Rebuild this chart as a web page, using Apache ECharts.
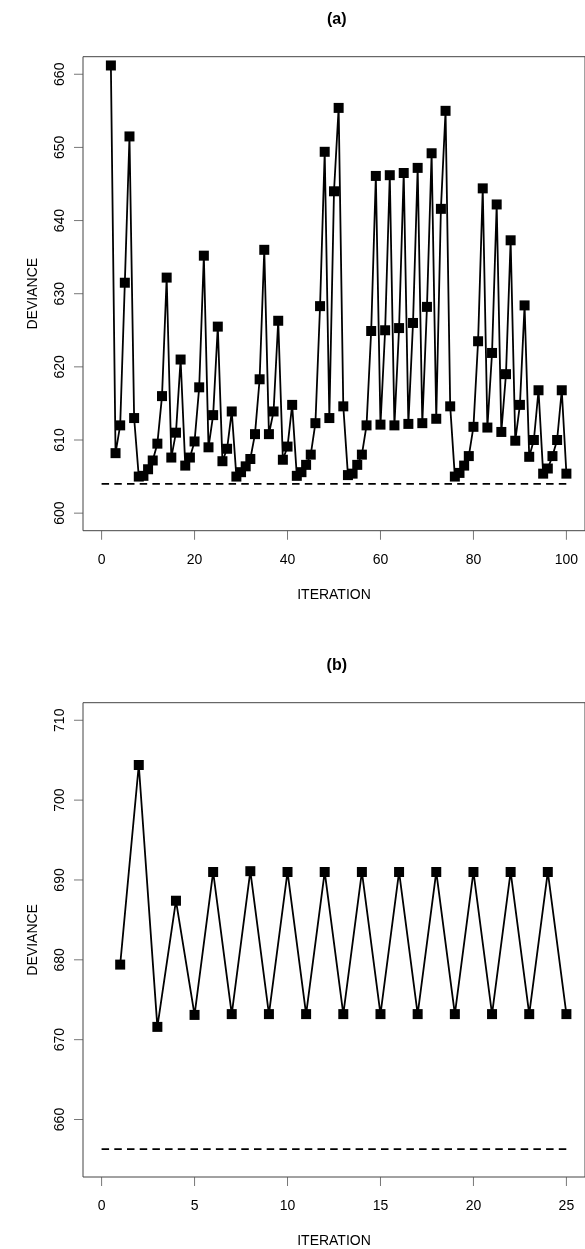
<!DOCTYPE html>
<html>
<head>
<meta charset="utf-8">
<script src="https://cdn.jsdelivr.net/npm/echarts@6/dist/echarts.min.js"></script>
<style>
  html, body { margin: 0; padding: 0; background: #fff; }
  #chart { width: 585px; height: 1249px; }
</style>
</head>
<body>
<div id="chart"></div>
<script>
// panel (a): deviance by iteration
var iterA = [2, 3, 4, 5, 6, 7, 8, 9, 10, 11, 12, 13, 14, 15, 16, 17, 18, 19, 20, 21,
    22, 23, 24, 25, 26, 27, 28, 29, 30, 31, 32, 33, 34, 35, 36, 37, 38, 39, 40, 41,
    42, 43, 44, 45, 46, 47, 48, 49, 50, 51, 52, 53, 54, 55, 56, 57, 58, 59, 60, 61,
    62, 63, 64, 65, 66, 67, 68, 69, 70, 71, 72, 73, 74, 75, 76, 77, 78, 79, 80, 81,
    82, 83, 84, 85, 86, 87, 88, 89, 90, 91, 92, 93, 94, 95, 96, 97, 98, 99, 100]
var devA = [661.2, 608.2, 612.0, 631.5, 651.5, 613.0, 605.0, 605.1, 606.0, 607.2,
    609.5, 616.0, 632.2, 607.6, 611.0, 621.0, 606.5, 607.6, 609.8, 617.2,
    635.2, 609.0, 613.4, 625.5, 607.1, 608.8, 613.9, 605.0, 605.6, 606.4,
    607.4, 610.8, 618.3, 636.0, 610.8, 613.9, 626.3, 607.3, 609.1, 614.8,
    605.1, 605.6, 606.6, 608.0, 612.3, 628.3, 649.4, 613.0, 644.0, 655.4,
    614.6, 605.2, 605.4, 606.6, 608.0, 612.0, 624.9, 646.1, 612.1, 625.0,
    646.2, 612.0, 625.3, 646.5, 612.2, 626.0, 647.2, 612.3, 628.2, 649.2,
    612.9, 641.6, 655.0, 614.6, 605.0, 605.5, 606.5, 607.8, 611.8, 623.5,
    644.4, 611.7, 621.9, 642.2, 611.1, 619.0, 637.3, 609.9, 614.8, 628.4,
    607.7, 610.0, 616.8, 605.4, 606.1, 607.8, 610.0, 616.8, 605.4]
var refA = [[0, 604.0], [100, 604.0]]
var xTicksA = [0, 20, 40, 60, 80, 100]
var yTicksA = [600, 610, 620, 630, 640, 650, 660]

// panel (b)
var iterB = [1, 2, 3, 4, 5, 6, 7, 8, 9, 10, 11, 12, 13, 14, 15, 16, 17, 18, 19, 20,
    21, 22, 23, 24, 25]
var devB = [679.4, 704.4, 671.6, 687.4, 673.1, 691.0, 673.2, 691.1, 673.2, 691.0,
    673.2, 691.0, 673.2, 691.0, 673.2, 691.0, 673.2, 691.0, 673.2, 691.0,
    673.2, 691.0, 673.2, 691.0, 673.2]
var refB = [[0, 656.3], [25, 656.3]]
var xTicksB = [0, 5, 10, 15, 20, 25]
var yTicksB = [660, 670, 680, 690, 700, 710]

var font = '"Liberation Sans", Arial, sans-serif'
var tickLen = 9

// axis ranges (R pads the range by 4%)
var xRangeA = [-4, 104], yRangeA = [597.6, 662.4]
var xRangeB = [-1, 26], yRangeB = [652.8, 712.2]

function pairs(xs, ys) {
    var out = []
    for (var i = 0; i < xs.length; i++) {
        out.push([xs[i], ys[i]])
    }
    return out
}

function xAxisFor(idx, range, ticks) {
    return {
        type: 'value', gridIndex: idx, min: range[0], max: range[1], position: 'bottom',
        name: 'ITERATION', nameLocation: 'middle', nameGap: 57,
        nameTextStyle: { fontFamily: font, fontSize: 14, color: '#000' },
        axisLine: { show: false, onZero: false },
        axisTick: { show: false },
        axisLabel: { customValues: ticks, margin: 22, fontFamily: font, fontSize: 14, color: '#000' },
        splitLine: { show: false }
    }
}

function yAxisFor(idx, range, ticks) {
    return {
        type: 'value', gridIndex: idx, min: range[0], max: range[1], position: 'left',
        name: 'DEVIANCE', nameLocation: 'middle', nameGap: 43,
        nameTextStyle: { fontFamily: font, fontSize: 14, color: '#000' },
        axisLine: { show: false, onZero: false },
        axisTick: { show: false },
        axisLabel: { customValues: ticks, rotate: 90, margin: 16, fontFamily: font, fontSize: 14, color: '#000' },
        splitLine: { show: false }
    }
}

// axis ticks outside the box would not render, so draw them as unclipped marks
function tickSeries(idx, data, vertical) {
    return {
        type: 'scatter', xAxisIndex: idx, yAxisIndex: idx, data: data,
        symbol: 'rect',
        symbolSize: vertical ? [1, tickLen] : [tickLen, 1],
        symbolOffset: vertical ? [0, tickLen / 2] : [-tickLen / 2, 0],
        itemStyle: { color: '#555' },
        clip: false, silent: true, z: 1
    }
}

function xTickData(range, ticks) {
    return ticks.map(function(t) { return [t, range[0]] })
}

function yTickData(range, ticks) {
    return ticks.map(function(t) { return [range[0], t] })
}

function devSeries(idx, data) {
    return {
        type: 'line', xAxisIndex: idx, yAxisIndex: idx, data: data,
        symbol: 'rect', symbolSize: 10, showAllSymbol: true,
        lineStyle: { color: '#000', width: 1.8 },
        itemStyle: { color: '#000' },
        z: 3
    }
}

function refSeries(idx, data) {
    return {
        type: 'line', xAxisIndex: idx, yAxisIndex: idx, data: data,
        symbol: 'none',
        lineStyle: { color: '#000', width: 1.7, type: [7.5, 5.2] },
        z: 2
    }
}

window.onload = function() {
    var chart = echarts.init(document.getElementById('chart'), null, { renderer: 'canvas' })

    var option = {
        animation: false,
        backgroundColor: '#fff',
        title: [
            { text: '(a)', left: 336.8, top: 20, padding: 0, textAlign: 'center', textVerticalAlign: 'middle',
              textStyle: { fontFamily: font, fontSize: 16, fontWeight: 'bold', color: '#000' } },
            { text: '(b)', left: 336.8, top: 666, padding: 0, textAlign: 'center', textVerticalAlign: 'middle',
              textStyle: { fontFamily: font, fontSize: 16, fontWeight: 'bold', color: '#000' } }
        ],
        grid: [
            { left: 83, top: 56.7, width: 507.6, height: 474, show: true, borderColor: '#444', borderWidth: 1 },
            { left: 83, top: 702.7, width: 507.6, height: 474.6, show: true, borderColor: '#444', borderWidth: 1 }
        ],
        xAxis: [
            xAxisFor(0, xRangeA, xTicksA),
            xAxisFor(1, xRangeB, xTicksB)
        ],
        yAxis: [
            yAxisFor(0, yRangeA, yTicksA),
            yAxisFor(1, yRangeB, yTicksB)
        ],
        series: [
            refSeries(0, refA),
            devSeries(0, pairs(iterA, devA)),
            tickSeries(0, xTickData(yRangeA, xTicksA), true),
            tickSeries(0, yTickData(xRangeA, yTicksA), false),
            refSeries(1, refB),
            devSeries(1, pairs(iterB, devB)),
            tickSeries(1, xTickData(yRangeB, xTicksB), true),
            tickSeries(1, yTickData(xRangeB, yTicksB), false)
        ]
    }

    chart.setOption(option)
}
</script>
</body>
</html>
